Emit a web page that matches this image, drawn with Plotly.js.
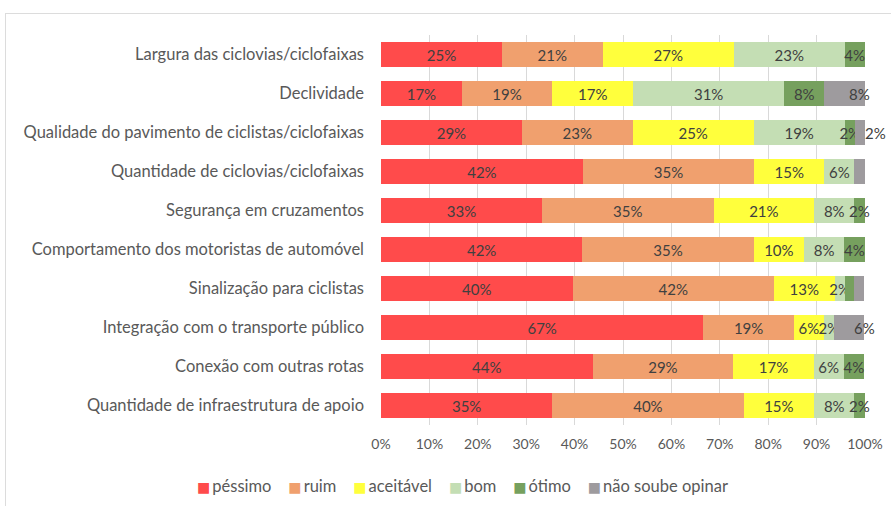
<!DOCTYPE html>
<html><head><meta charset="utf-8">
<script src="https://cdn.plot.ly/plotly-3.0.1.min.js"></script>
<style>
html,body{margin:0;padding:0;background:#fff;}
#frame{position:absolute;left:5px;top:13px;right:0;bottom:0;border-top:1px solid #dcdcdc;border-left:1px solid #dcdcdc;}
#chart{position:absolute;left:0;top:0;width:891px;height:506px;}
</style>
</head><body><div id="frame"></div><div id="chart"></div>
<script>
const categories = [
  "Largura das ciclovias/ciclofaixas",
  "Declividade",
  "Qualidade do pavimento de ciclistas/ciclofaixas",
  "Quantidade de ciclovias/ciclofaixas",
  "Segurança em cruzamentos",
  "Comportamento dos motoristas de automóvel",
  "Sinalização para ciclistas",
  "Integração com o transporte público",
  "Conexão com outras rotas",
  "Quantidade de infraestrutura de apoio"
];
const seriesNames = ["péssimo", "ruim", "aceitável", "bom", "ótimo", "não soube opinar"];
const pessimo   = [25.0, 16.7, 29.1, 41.7, 33.3, 41.6, 39.6, 66.6, 43.7, 35.4];
const ruim      = [20.8, 18.7, 22.9, 35.4, 35.4, 35.4, 41.6, 18.7, 29.1, 39.5];
const aceitavel = [27.1, 16.7, 25.0, 14.5, 20.8, 10.4, 12.5, 6.2, 16.6, 14.6];
const bom       = [22.9, 31.2, 18.8, 6.2, 8.3, 8.3, 2.1, 2.1, 6.2, 8.3];
const otimo     = [4.1, 8.3, 2.1, 0, 2.1, 4.2, 2.0, 0, 4.2, 2.1];
const naoSoube  = [0, 8.3, 2.0, 2.1, 0, 0, 2.0, 6.2, 0, 0];
// rows (0-based) whose segment carries no data label in the original
const unlabeled = [[], [], [], [], [6], [3, 6]];
const xTicks = [0, 10, 20, 30, 40, 50, 60, 70, 80, 90, 100];
const xTickLabels = ["0%", "10%", "20%", "30%", "40%", "50%", "60%", "70%", "80%", "90%", "100%"];

const colors = ["#FF4B4B", "#F0A06E", "#FFFF3C", "#C4DEB4", "#76A05E", "#9E9B9E"];
const allSeries = [pessimo, ruim, aceitavel, bom, otimo, naoSoube];
const FONT = "Lato, 'Open Sans', sans-serif";
const lastIdx = allSeries.length - 1;

const labelOf = (v, s, i) => (v > 0 && !unlabeled[s].includes(i)) ? Math.round(v) + "%" : "";

const traces = allSeries.map((vals, s) => ({
  type: "bar",
  orientation: "h",
  name: seriesNames[s],
  y: categories,
  x: vals,
  marker: {color: colors[s], line: {width: 0}},
  text: vals.map((v, i) => s === lastIdx ? "" : labelOf(v, s, i)),
  textposition: "inside",
  insidetextanchor: "middle",
  textangle: 0,
  textfont: {family: FONT, size: 15, color: "#404040"},
  cliponaxis: false,
  showlegend: false,
  hoverinfo: "x+y+name"
}));

// labels of the last series are nudged to the right of their segment's centre
const annotations = [];
naoSoube.forEach((v, i) => {
  const t = labelOf(v, lastIdx, i);
  if (!t) return;
  const start = allSeries.slice(0, lastIdx).reduce((a, arr) => a + arr[i], 0);
  annotations.push({
    x: start + v / 2, y: categories[i], xref: "x", yref: "y",
    text: t, showarrow: false, xanchor: "left", yanchor: "middle", xshift: 3,
    font: {family: FONT, size: 15, color: "#404040"}
  });
});

// legend row
const legendHtml = seriesNames.map((n, s) =>
  `<span style="color:${colors[s]};font-family:'DejaVu Sans';font-size:14px">■</span>\u2009${n}`
).join("\u00a0\u00a0\u00a0\u00a0");
annotations.push({
  xref: "paper", yref: "paper", x: 0.1694, y: -0.1564,
  xanchor: "center", yanchor: "middle", showarrow: false,
  text: legendHtml,
  font: {family: FONT, size: 16.5, color: "#595959"}
});

const layout = {
  width: 891, height: 506,
  paper_bgcolor: "rgba(0,0,0,0)",
  plot_bgcolor: "rgba(0,0,0,0)",
  barmode: "stack",
  bargap: 0.36,
  margin: {l: 381, r: 26, t: 35, b: 81},
  font: {family: FONT, color: "#595959"},
  uniformtext: {mode: "show", minsize: 15},
  xaxis: {
    range: [0, 100],
    tickvals: xTicks,
    ticktext: xTickLabels,
    showgrid: true,
    gridcolor: "#d9d9d9",
    gridwidth: 1,
    zeroline: false,
    showline: false,
    ticks: "",
    ticklabelstandoff: 9,
    tickfont: {family: FONT, size: 14, color: "#595959"},
    fixedrange: true
  },
  yaxis: {
    autorange: "reversed",
    showgrid: false,
    zeroline: false,
    showline: false,
    ticks: "",
    ticklabelstandoff: 16,
    tickfont: {family: FONT, size: 16.5, color: "#595959"},
    fixedrange: true
  },
  showlegend: false,
  annotations: annotations
};

Plotly.newPlot("chart", traces, layout, {displayModeBar: false, staticPlot: true});
</script>
</body></html>
